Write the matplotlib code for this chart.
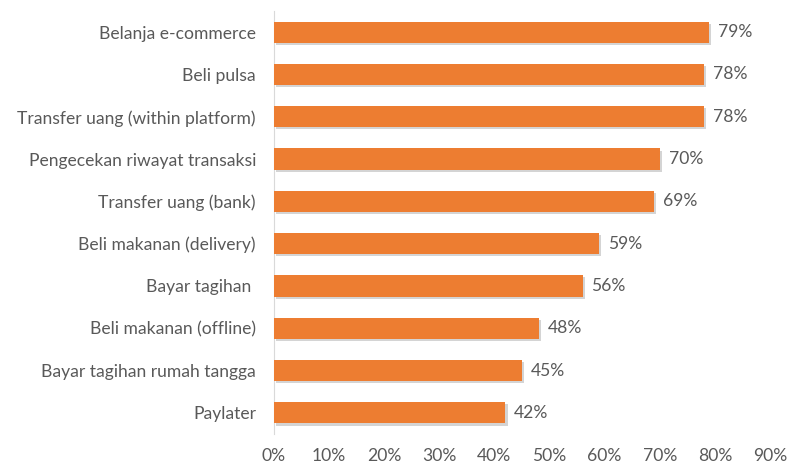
import matplotlib.pyplot as plt
import matplotlib.patheffects as pe
from matplotlib.ticker import PercentFormatter

# Data (top to bottom as shown)
categories = ["Belanja e-commerce", "Beli pulsa", "Transfer uang (within platform)",
              "Pengecekan riwayat transaksi", "Transfer uang (bank)", "Beli makanan (delivery)",
              "Bayar tagihan ", "Beli makanan (offline)", "Bayar tagihan rumah tangga", "Paylater"]
values = [79, 78, 78, 70, 69, 59, 56, 48, 45, 42]

plt.rcParams['font.family'] = ['Lato', 'DejaVu Sans']
text_color = '#595959'
fs = 12.6

fig = plt.figure(figsize=(7.88, 4.68), dpi=100)
ax = fig.add_axes([0.3477, 0.0726, 0.6295, 0.904])

y = list(range(len(categories)))[::-1]
bars = ax.barh(y, values, height=0.5, color='#ED7D31', zorder=3)
for b in bars:
    b.set_path_effects([pe.SimplePatchShadow(offset=(1.5, -1.5), shadow_rgbFace='#a0a0a0', alpha=0.45),
                        pe.Normal()])

for yi, v in zip(y, values):
    ax.text(v + 1.6, yi, f"{v}%", va='center', ha='left', fontsize=fs, color=text_color)

ax.set_yticks(y)
ax.set_yticklabels(categories, fontsize=fs, color=text_color)
ax.set_xlim(0, 90)
ax.set_xticks(range(0, 91, 10))
ax.xaxis.set_major_formatter(PercentFormatter(decimals=0))
ax.tick_params(axis='x', colors=text_color, labelsize=fs, length=0, pad=10)
ax.tick_params(axis='y', length=0, pad=13)
ax.set_ylim(-0.5, len(categories) - 0.5)

for s in ['top', 'right', 'bottom']:
    ax.spines[s].set_visible(False)
ax.spines['left'].set_color('#d9d9d9')

fig.savefig("out.png", dpi=100)
